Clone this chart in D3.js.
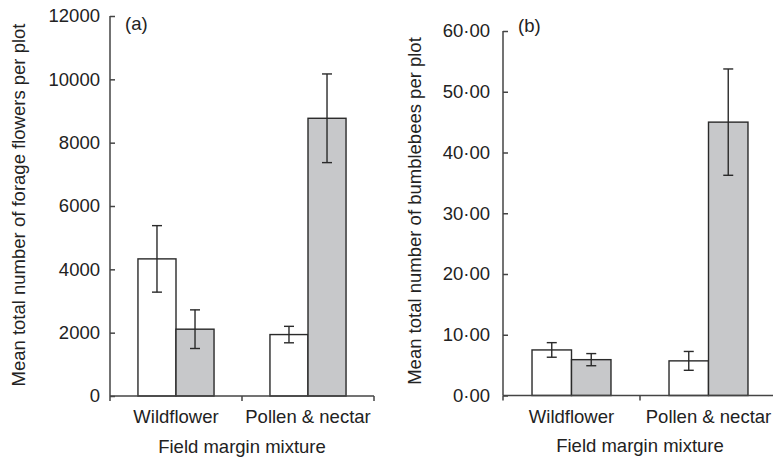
<!DOCTYPE html>
<html>
<head>
<meta charset="utf-8">
<script src="https://cdn.jsdelivr.net/npm/d3@7"></script>
<style>
  body { margin: 0; background: #fff; }
  text { font-family: "Liberation Sans", Arial, Helvetica, sans-serif; fill: #222; }
</style>
</head>
<body>
<div id="container"></div>
<script>
// Data
var categories = ["Wildflower", "Pollen & nectar"];
var series = ["white", "grey"];

// Panel (a) forage flowers: means and standard errors
var flowersWhite = [4330, 1940];
var flowersGrey = [2110, 8770];
var flowersWhiteSE = [1050, 260];
var flowersGreySE = [610, 1400];
var flowersTicks = [0, 2000, 4000, 6000, 8000, 10000, 12000];

// Panel (b) bumblebees: means and standard errors
var beesWhite = [7.5, 5.7];
var beesGrey = [5.9, 45.0];
var beesWhiteSE = [1.2, 1.55];
var beesGreySE = [1.0, 8.75];
var beesTicks = [0, 10, 20, 30, 40, 50, 60];

var W = 773, H = 460;
var FILL = { white: "#ffffff", grey: "#c7c8ca" };
var INK = "#2a2a2a";
var FONT = "18.5px";

var svg = d3.select("#container").append("svg")
  .attr("width", W)
  .attr("height", H);

// Draw one panel of grouped bars with error bars
function drawPanel(opt) {
  var g = svg.append("g");

  var x = d3.scaleBand()
    .domain(categories)
    .range([opt.left, opt.right])
    .padding(0);
  var xs = d3.scaleBand()
    .domain(series)
    .range([0, x.bandwidth()])
    .paddingInner(0)
    .paddingOuter(0.735);
  var y = d3.scaleLinear()
    .domain([0, opt.max])
    .range([opt.bottom, opt.top]);

  // Build rows for bars
  var rows = [];
  categories.forEach(function (c, i) {
    rows.push({ cat: c, s: "white", v: opt.white[i], se: opt.whiteSE[i] });
    rows.push({ cat: c, s: "grey", v: opt.grey[i], se: opt.greySE[i] });
  });

  g.selectAll("rect.bar").data(rows).enter().append("rect")
    .attr("class", "bar")
    .attr("x", function (d) { return x(d.cat) + xs(d.s); })
    .attr("y", function (d) { return y(d.v); })
    .attr("width", xs.bandwidth())
    .attr("height", function (d) { return y(0) - y(d.v); })
    .style("fill", function (d) { return FILL[d.s]; })
    .style("stroke", INK)
    .style("stroke-width", 1.4);

  // Error bars
  var cap = 5;
  var eb = g.selectAll("g.err").data(rows).enter().append("g")
    .attr("class", "err")
    .attr("transform", function (d) {
      return "translate(" + (x(d.cat) + xs(d.s) + xs.bandwidth() / 2) + ",0)";
    });
  eb.append("line")
    .attr("y1", function (d) { return y(d.v - d.se); })
    .attr("y2", function (d) { return y(d.v + d.se); });
  eb.append("line")
    .attr("x1", -cap).attr("x2", cap)
    .attr("y1", function (d) { return y(d.v + d.se); })
    .attr("y2", function (d) { return y(d.v + d.se); });
  eb.append("line")
    .attr("x1", -cap).attr("x2", cap)
    .attr("y1", function (d) { return y(d.v - d.se); })
    .attr("y2", function (d) { return y(d.v - d.se); });
  eb.selectAll("line").style("stroke", INK).style("stroke-width", 1.4);

  // Y axis, ticks pointing inward
  var yAxis = d3.axisLeft(y)
    .tickValues(opt.ticks)
    .tickSize(-5)
    .tickPadding(opt.pad)
    .tickFormat(opt.fmt);
  var ya = g.append("g")
    .attr("transform", "translate(" + opt.left + ",0)")
    .call(yAxis);
  ya.select(".domain").attr("d", "M0," + opt.bottom + "V" + opt.top);
  ya.selectAll("text").style("font-size", FONT)
    .style("font-family", "Liberation Sans, Arial, sans-serif").style("fill", "#222");

  // X axis with ticks at the band edges
  var edges = [opt.left, (opt.left + opt.right) / 2, opt.right];
  var xa = g.append("g");
  xa.append("line")
    .attr("x1", opt.left).attr("x2", opt.right)
    .attr("y1", opt.bottom).attr("y2", opt.bottom);
  xa.selectAll("line.tick").data(edges).enter().append("line")
    .attr("class", "tick")
    .attr("x1", function (d) { return d; })
    .attr("x2", function (d) { return d; })
    .attr("y1", opt.bottom).attr("y2", opt.bottom + 5);
  xa.selectAll("line").style("stroke", "#444").style("stroke-width", 1.5);
  g.selectAll(".domain, .tick line").style("stroke", "#444").style("stroke-width", 1.5);

  g.selectAll("text.cat").data(categories).enter().append("text")
    .attr("class", "cat")
    .attr("x", function (d) { return x(d) + x.bandwidth() / 2; })
    .attr("y", opt.catY)
    .attr("text-anchor", "middle")
    .style("font-size", FONT)
    .text(function (d) { return d; });

  g.append("text")
    .attr("x", (opt.left + opt.right) / 2)
    .attr("y", opt.titleY)
    .attr("text-anchor", "middle")
    .style("font-size", FONT)
    .text("Field margin mixture");

  g.append("text")
    .attr("transform", "translate(" + opt.ylabX + "," + opt.ylabY + ") rotate(-90)")
    .attr("text-anchor", "middle")
    .style("font-size", FONT)
    .text(opt.ylabel);

  g.append("text")
    .attr("x", opt.tagX)
    .attr("y", opt.tagY)
    .style("font-size", FONT)
    .text(opt.tag);
}

drawPanel({
  left: 110, right: 374, top: 16, bottom: 396,
  max: 12000, ticks: flowersTicks, pad: 10,
  fmt: d3.format("d"),
  white: flowersWhite, grey: flowersGrey,
  whiteSE: flowersWhiteSE, greySE: flowersGreySE,
  catY: 423, titleY: 453,
  ylabel: "Mean total number of forage flowers per plot", ylabX: 25, ylabY: 205,
  tag: "(a)", tagX: 125, tagY: 30
});

drawPanel({
  left: 503, right: 777, top: 31, bottom: 395.5,
  max: 60, ticks: beesTicks, pad: 13,
  fmt: function (d) { return d3.format(".2f")(d).replace(".", "\u00b7"); },
  white: beesWhite, grey: beesGrey,
  whiteSE: beesWhiteSE, greySE: beesGreySE,
  catY: 423, titleY: 452,
  ylabel: "Mean total number of bumblebees per plot", ylabX: 421, ylabY: 211,
  tag: "(b)", tagX: 518, tagY: 32
});
</script>
</body>
</html>
